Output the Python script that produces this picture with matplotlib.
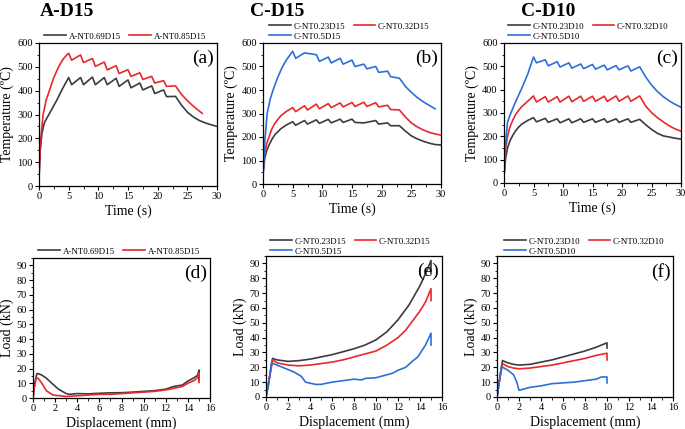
import matplotlib
matplotlib.use("Agg")
import matplotlib.pyplot as plt
from matplotlib.ticker import MultipleLocator

plt.rcParams['font.family'] = ['Liberation Serif', 'DejaVu Serif']

# ---------------- data ----------------
# Panel (a) temperature
a_t_069 = [0, 0.2, 0.5, 0.8, 1.0, 2, 3, 4, 5, 5.5, 7, 7.5, 9, 9.5, 11, 11.5, 13, 13.5, 15, 15.5, 17, 17.5, 19, 19.5, 21, 21.5, 23, 24, 25, 26, 27, 28, 29, 30]
a_T_069 = [30, 150, 220, 255, 270, 315, 360, 410, 455, 425, 455, 425, 457, 425, 455, 425, 452, 418, 445, 412, 432, 403, 420, 388, 403, 375, 376, 340, 310, 290, 275, 265, 257, 250]
a_t_085 = [0, 0.3, 0.7, 1.2, 1.75, 2.5, 3.3, 4, 4.5, 5, 5.5, 7, 7.5, 9, 9.5, 11, 11.5, 13, 13.5, 15, 15.5, 17, 17.5, 19, 19.5, 21, 21.5, 23, 24, 25, 26, 27.5]
a_T_085 = [40, 200, 300, 360, 400, 455, 500, 530, 545, 557, 528, 550, 518, 535, 502, 520, 487, 505, 472, 488, 460, 475, 447, 460, 432, 442, 418, 420, 385, 358, 335, 305]

# Panel (b) temperature
b_t_023 = [0, 0.3, 0.6, 1, 1.5, 2, 2.5, 3, 4, 5, 5.5, 7, 7.5, 9, 9.5, 11, 11.5, 13, 13.5, 15, 15.5, 17, 19, 19.5, 21, 21.5, 23, 24, 25, 26, 27, 28, 29, 30]
b_T_023 = [40, 110, 140, 165, 190, 210, 222, 235, 252, 265, 250, 270, 255, 273, 258, 275, 260, 276, 262, 276, 262, 260, 270, 255, 260, 248, 248, 225, 205, 192, 182, 174, 168, 166]
b_t_032 = [0, 0.3, 0.6, 1, 1.5, 2, 2.5, 3, 4, 5, 5.5, 7, 7.5, 9, 9.5, 11, 11.5, 13, 13.5, 15, 15.5, 17, 17.5, 19, 19.5, 21, 21.5, 23, 24, 25, 26, 27, 28, 29, 30]
b_T_032 = [50, 130, 170, 200, 235, 258, 275, 290, 310, 325, 308, 333, 315, 340, 320, 342, 325, 345, 328, 347, 330, 348, 330, 346, 328, 335, 317, 315, 285, 260, 243, 230, 220, 213, 208]
b_t_05 = [0, 0.3, 0.7, 1.2, 1.7, 2.5, 3.3, 4, 5, 5.5, 7, 9, 9.5, 11, 11.5, 13, 13.5, 15, 15.5, 17, 17.5, 19, 19.5, 21, 21.5, 23, 24, 25, 26, 27, 28, 29]
b_T_05 = [30, 180, 300, 360, 400, 455, 500, 530, 565, 535, 558, 550, 522, 540, 515, 535, 510, 527, 500, 510, 490, 500, 475, 480, 457, 450, 415, 390, 368, 350, 335, 320]

# Panel (c) temperature
c_t = [0, 0.3, 0.6, 1, 1.5, 2, 2.5, 3, 4, 5, 5.5, 7, 7.5, 9, 9.5, 11, 11.5, 13, 13.5, 15, 15.5, 17, 17.5, 19, 19.5, 21, 21.5, 23, 24, 25, 26, 27, 28, 29, 30]
c_T_023 = [30, 110, 150, 180, 205, 225, 240, 252, 268, 280, 262, 277, 260, 275, 258, 275, 258, 275, 260, 275, 260, 275, 260, 275, 260, 275, 260, 273, 250, 230, 213, 202, 197, 192, 188]
c_T_032 = [30, 150, 200, 240, 270, 295, 312, 327, 350, 373, 347, 370, 347, 370, 347, 372, 348, 372, 350, 372, 350, 372, 350, 373, 350, 373, 350, 373, 330, 302, 280, 262, 245, 232, 222]
c_T_05 = [30, 180, 260, 290, 320, 350, 378, 405, 465, 540, 515, 528, 502, 520, 497, 515, 492, 510, 490, 508, 488, 505, 485, 503, 485, 502, 480, 498, 455, 420, 392, 370, 352, 337, 325]

# Panel (d) load
d_x_069 = [0, 0.15, 0.35, 0.5, 0.8, 1.2, 1.7, 2.3, 3.0, 3.3, 4, 5, 6, 7, 8, 9, 10, 11, 12, 12.7, 13.5, 14, 14.5, 14.9, 15, 15]
d_y_069 = [0, 10, 16.5, 16.5, 15.5, 13.5, 10, 6, 3, 2.5, 3, 2.8, 3.2, 3.5, 3.6, 4, 4.5, 5, 6, 7.8, 8.8, 11.5, 13.5, 15.5, 19, 12]
d_x_085 = [0, 0.1, 0.3, 0.5, 0.8, 1.2, 1.8, 2.5, 3, 4, 5, 6, 7, 8, 9, 10, 11, 12, 13, 13.5, 14, 14.6, 14.9, 15, 15]
d_y_085 = [0, 6, 14, 13, 10, 5, 2, 1.5, 1, 1.5, 2, 2.5, 2.5, 3, 3.5, 4, 4.5, 5.5, 7, 7.8, 10, 12, 14, 17, 10.5]

# Panel (e) load
e_x_023 = [0, 0.2, 0.6, 1, 2, 3, 4, 5, 6, 7, 8, 9, 10, 11, 12, 13, 14, 14.5, 15, 15]
e_y_023 = [0, 8, 26, 25, 24, 24.5, 25.5, 27, 28.5, 30.5, 32.5, 35, 38.5, 44, 52, 62, 75, 83, 92, 83]
e_x_032 = [0, 0.2, 0.6, 1, 2, 3, 4, 5, 6, 7, 8, 9, 10, 11, 12, 12.7, 13.5, 14, 14.5, 15, 15]
e_y_032 = [0, 8, 25, 23, 21.5, 21, 21.5, 22.5, 23.5, 25, 27, 29, 31, 35, 40, 45, 53, 58, 64, 73, 65]
e_x_05 = [0, 0.2, 0.5, 1.5, 2.5, 3.2, 3.6, 4.5, 5, 6, 7, 8, 8.7, 9, 10, 11, 11.5, 12, 12.7, 13.3, 13.8, 14.5, 15, 15]
e_y_05 = [0, 7, 23, 20, 17, 14, 10, 8.5, 8.5, 10, 11, 12, 11.5, 12.5, 13, 15, 16, 18, 20, 24, 27, 35, 43, 35]

# Panel (f) load
f_x = [0, 0.2, 0.5, 1, 1.5, 2, 3, 4, 5, 6, 7, 8, 9, 10, 10]
f_y_023 = [0, 10, 24.5, 23, 22, 21.5, 22, 23.5, 25, 27, 29, 31, 33.5, 36.5, 33]
f_y_032 = [0, 10, 22.5, 20.5, 19.5, 19, 19.5, 20.5, 21.5, 23, 24.5, 26, 28, 29.5, 25]
f_x_05 = [0, 0.2, 0.4, 1, 1.5, 1.8, 2, 2.5, 3, 4, 5, 6, 7, 8, 9, 9.5, 10, 10]
f_y_05 = [0, 10, 20.5, 18, 15, 10, 4.5, 5.5, 6.5, 7.5, 9, 9.5, 10, 11, 12, 13.5, 13.5, 9.5]

# ---------------- styling ----------------
GRAY = '#3c3c3c'
RED = '#e8282d'
BLUE = '#2d6fd8'
LW = 1.2
W, H = 685, 429

fig = plt.figure(figsize=(W / 100, H / 100), dpi=100)


def make_ax(l, r, t, b):
    return fig.add_axes([l / W, 1 - b / H, (r - l) / W, (b - t) / H])


def style(ax, xlim, ylim, xmaj, ymaj, ymin, xmin=None):
    ax.set_xlim(*xlim)
    ax.set_ylim(*ylim)
    ax.xaxis.set_major_locator(MultipleLocator(xmaj))
    ax.yaxis.set_major_locator(MultipleLocator(ymaj))
    ax.yaxis.set_minor_locator(MultipleLocator(ymin))
    if xmin:
        ax.xaxis.set_minor_locator(MultipleLocator(xmin))
    ax.tick_params(which='major', direction='out', length=3, width=0.8, labelsize=7.5, pad=1.5)
    ax.tick_params(which='minor', direction='out', length=1.8, width=0.6)
    for s in ax.spines.values():
        s.set_linewidth(0.9)


def legend3(ax, lines, labels, x0, y0):
    # row-major ordering for 2 columns
    order = [0, 2, 1] if len(lines) == 3 else [0, 1]
    ax.legend([lines[i] for i in order], [labels[i] for i in order], ncol=2,
              frameon=False, fontsize=6.4, handlelength=2.4, handletextpad=0.3,
              columnspacing=1.0, labelspacing=0.2, borderpad=0,
              loc='lower left', bbox_to_anchor=(x0 / W, 1 - y0 / H),
              bbox_transform=fig.transFigure)


def panel_label(ax, s):
    ax.text(0.985, 0.95, s, transform=ax.transAxes, ha='right', va='top', fontsize=14)


# (a)
ax = make_ax(39, 217, 43, 186)
l1, = ax.plot(a_t_069, a_T_069, color=GRAY, lw=LW)
l2, = ax.plot(a_t_085, a_T_085, color=RED, lw=LW)
style(ax, (0, 30), (0, 600), 5, 100, 50, 2.5)
ax.set_xlabel('Time (s)', fontsize=10, labelpad=2)
ax.set_ylabel('Temperature (ºC)', fontsize=10, labelpad=2)
panel_label(ax, '(a)')
legend3(ax, [l1, l2], ['A-NT0.69D15', 'A-NT0.85D15'], 40, 45)

# (b)
ax = make_ax(263, 441, 43, 184)
l1, = ax.plot(b_t_023, b_T_023, color=GRAY, lw=LW)
l2, = ax.plot(b_t_032, b_T_032, color=RED, lw=LW)
l3, = ax.plot(b_t_05, b_T_05, color=BLUE, lw=LW)
style(ax, (0, 30), (0, 600), 5, 100, 50, 2.5)
ax.set_xlabel('Time (s)', fontsize=10, labelpad=2)
ax.set_ylabel('Temperature (ºC)', fontsize=10, labelpad=2)
panel_label(ax, '(b)')
legend3(ax, [l1, l2, l3], ['C-NT0.23D15', 'C-NT0.32D15', 'C-NT0.5D15'], 265, 45)

# (c)
ax = make_ax(504, 681, 43, 183)
l1, = ax.plot(c_t, c_T_023, color=GRAY, lw=LW)
l2, = ax.plot(c_t, c_T_032, color=RED, lw=LW)
l3, = ax.plot(c_t, c_T_05, color=BLUE, lw=LW)
style(ax, (0, 30), (0, 600), 5, 100, 50, 2.5)
ax.set_xlabel('Time (s)', fontsize=10, labelpad=2)
ax.set_ylabel('Temperature (ºC)', fontsize=10, labelpad=2)
panel_label(ax, '(c)')
legend3(ax, [l1, l2, l3], ['C-NT0.23D10', 'C-NT0.32D10', 'C-NT0.5D10'], 504, 45)

# (d)
ax = make_ax(33, 210, 258, 398)
l1, = ax.plot(d_x_069, d_y_069, color=GRAY, lw=LW)
l2, = ax.plot(d_x_085, d_y_085, color=RED, lw=LW)
style(ax, (0, 16), (0, 95), 2, 10, 5, 1)
ax.set_xlabel('Displacement (mm)', fontsize=10, labelpad=2)
ax.set_ylabel('Load (kN)', fontsize=10, labelpad=2)
panel_label(ax, '(d)')
legend3(ax, [l1, l2], ['A-NT0.69D15', 'A-NT0.85D15'], 34, 260)

# (e)
ax = make_ax(266, 442, 256, 397)
l1, = ax.plot(e_x_023, e_y_023, color=GRAY, lw=LW)
l2, = ax.plot(e_x_032, e_y_032, color=RED, lw=LW)
l3, = ax.plot(e_x_05, e_y_05, color=BLUE, lw=LW)
style(ax, (0, 16), (0, 95), 2, 10, 5, 1)
ax.set_xlabel('Displacement (mm)', fontsize=10, labelpad=2)
ax.set_ylabel('Load (kN)', fontsize=10, labelpad=2)
panel_label(ax, '(e)')
legend3(ax, [l1, l2, l3], ['C-NT0.23D15', 'C-NT0.32D15', 'C-NT0.5D15'], 266, 260)

# (f)
ax = make_ax(497, 673, 256, 397)
l1, = ax.plot(f_x, f_y_023, color=GRAY, lw=LW)
l2, = ax.plot(f_x, f_y_032, color=RED, lw=LW)
l3, = ax.plot(f_x_05, f_y_05, color=BLUE, lw=LW)
style(ax, (0, 16), (0, 95), 2, 10, 5, 1)
ax.set_xlabel('Displacement (mm)', fontsize=10, labelpad=2)
ax.set_ylabel('Load (kN)', fontsize=10, labelpad=2)
panel_label(ax, '(f)')
legend3(ax, [l1, l2, l3], ['C-NT0.23D10', 'C-NT0.32D10', 'C-NT0.5D10'], 500, 260)

# Group titles
for x, txt in [(67, 'A-D15'), (277, 'C-D15'), (548, 'C-D10')]:
    fig.text(x / W, 1 - 11 / H, txt, ha='center', va='center', fontsize=14, fontweight='bold')

fig.savefig('out.png', dpi=100)
